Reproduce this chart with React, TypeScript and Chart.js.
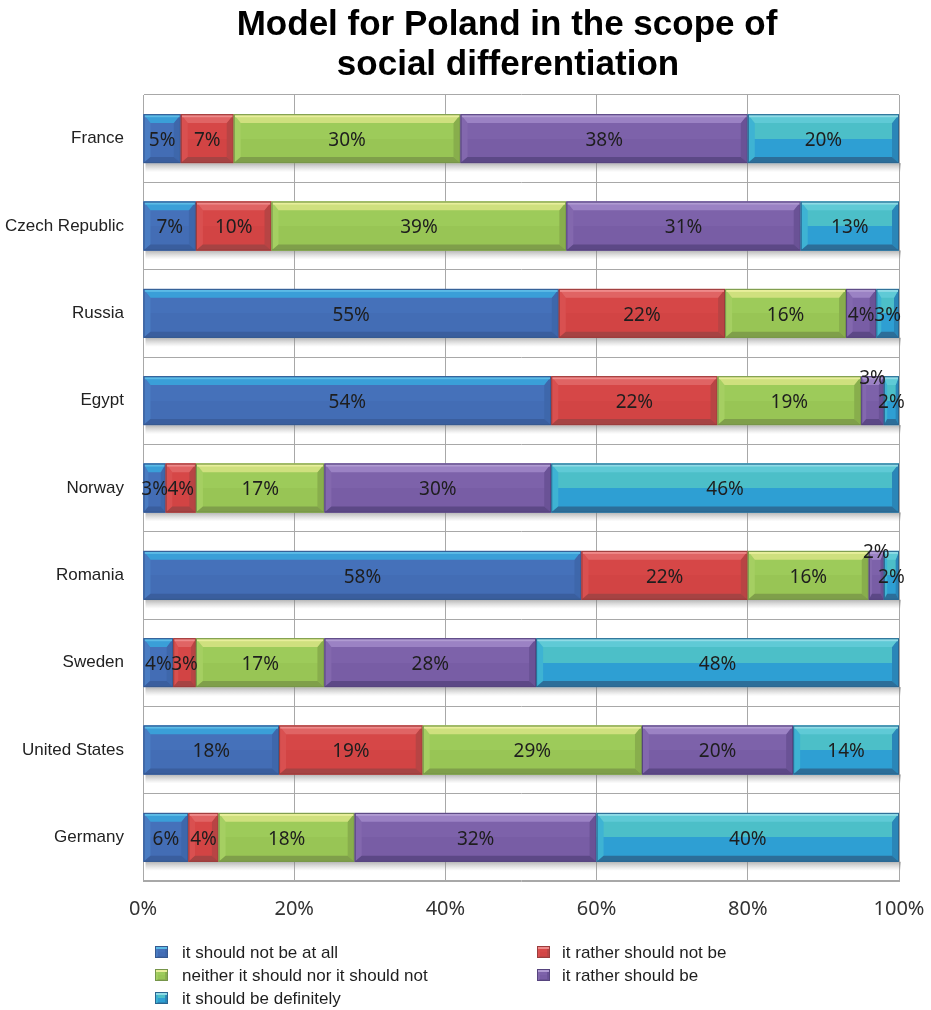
import React, { useEffect, useRef } from 'react';
import { Chart, registerables } from 'chart.js';

Chart.register(...registerables);

// Survey answers per country, in percent (each row sums to 100)
const countries = ['France', 'Czech Republic', 'Russia', 'Egypt', 'Norway', 'Romania', 'Sweden', 'United States', 'Germany'];
const notAtAll = [5, 7, 55, 54, 3, 58, 4, 18, 6];
const ratherNot = [7, 10, 22, 22, 4, 22, 3, 19, 4];
const neither = [30, 39, 16, 19, 17, 16, 17, 29, 18];
const ratherShould = [38, 31, 4, 3, 30, 2, 28, 20, 32];
const definitely = [20, 13, 3, 2, 46, 2, 48, 14, 40];
const xTicks = [0, 20, 40, 60, 80, 100];

const seriesNames = [
  'it should not be at all',
  'it rather should not be',
  'neither it should nor it should not',
  'it rather should be',
  'it should be definitely',
];
const seriesValues = [notAtAll, ratherNot, neither, ratherShould, definitely];

const TITLE_LINES = ['Model for Poland in the scope of', 'social differentiation'];

type Palette = {
  bodyTop: string;
  bodyBottom: string;
  top: string;
  topHi: string;
  bottom: string;
  left: string;
  right: string;
  edge: string;
};

// Bevelled look for each series
const palettes: Palette[] = [
  { bodyTop: '#4571ba', bodyBottom: '#436db5', top: '#3a9fd8', topHi: '#5cbbe6', bottom: '#3a5e9e', left: '#4a7cc2', right: '#3e67ab', edge: '#36598f' },
  { bodyTop: '#d64747', bodyBottom: '#d24444', top: '#e06464', topHi: '#ee8a8a', bottom: '#a64343', left: '#d95050', right: '#b84444', edge: '#9a3c3c' },
  { bodyTop: '#9dcb5a', bodyBottom: '#98c555', top: '#cfe07e', topHi: '#e8ee9c', bottom: '#7f9f4a', left: '#a5cf62', right: '#88ae4c', edge: '#76954a' },
  { bodyTop: '#7d62aa', bodyBottom: '#785da5', top: '#9b82c4', topHi: '#b09bd2', bottom: '#5c4886', left: '#8368ae', right: '#6a5296', edge: '#56447e' },
  { bodyTop: '#4cbfc8', bodyBottom: '#2e9fd3', top: '#5fcad6', topHi: '#8fdbe6', bottom: '#2c6e99', left: '#3eb3d3', right: '#2a86b8', edge: '#2a6590' },
];

const GRID = '#a8a8a8';
const LABEL_FONT = '19px "Noto Sans", "Liberation Sans", sans-serif';
const AXIS_FONT_FAMILY = '"Liberation Sans", Arial, sans-serif';

function poly(ctx: CanvasRenderingContext2D, pts: number[][], fill: string) {
  ctx.beginPath();
  ctx.moveTo(pts[0][0], pts[0][1]);
  for (let i = 1; i < pts.length; i++) ctx.lineTo(pts[i][0], pts[i][1]);
  ctx.closePath();
  ctx.fillStyle = fill;
  ctx.fill();
}

function drawSegment(ctx: CanvasRenderingContext2D, L: number, R: number, T: number, B: number, p: Palette) {
  const w = R - L;
  const h = B - T;
  if (w <= 0) return;
  const bt = Math.min(9, h * 0.18);
  const bb = Math.min(6, h * 0.13);
  const side = Math.min(7, w * 0.22);

  const g = ctx.createLinearGradient(0, T, 0, B);
  g.addColorStop(0, p.bodyTop);
  g.addColorStop(0.5, p.bodyTop);
  g.addColorStop(0.5, p.bodyBottom);
  g.addColorStop(1, p.bodyBottom);
  ctx.fillStyle = g;
  ctx.fillRect(L, T, w, h);

  poly(ctx, [[L, T], [L + side, T + bt], [L + side, B - bb], [L, B]], p.left);
  poly(ctx, [[R, T], [R - side, T + bt], [R - side, B - bb], [R, B]], p.right);
  poly(ctx, [[L, T], [R, T], [R - side, T + bt], [L + side, T + bt]], p.top);
  ctx.fillStyle = p.topHi;
  ctx.fillRect(L + 1, T + 1, Math.max(0, w - 2), 2);
  poly(ctx, [[L, B], [R, B], [R - side, B - bb], [L + side, B - bb]], p.bottom);

  ctx.strokeStyle = p.edge;
  ctx.lineWidth = 1;
  ctx.strokeRect(L + 0.5, T + 0.5, w - 1, h - 1);
}

const bevelPlugin = {
  id: 'bevelBars',
  beforeDatasetsDraw(chart: any) {
    const ctx: CanvasRenderingContext2D = chart.ctx;
    const first = chart.getDatasetMeta(0);
    const last = chart.getDatasetMeta(chart.data.datasets.length - 1);
    ctx.save();
    first.data.forEach((el: any, i: number) => {
      const a = el.getProps(['base', 'y', 'height'], true);
      const b = last.data[i].getProps(['x'], true);
      const B = a.y + a.height / 2;
      const g = ctx.createLinearGradient(0, B, 0, B + 9);
      g.addColorStop(0, 'rgba(120,120,120,0.55)');
      g.addColorStop(1, 'rgba(160,160,160,0)');
      ctx.fillStyle = g;
      ctx.fillRect(a.base + 2, B, b.x - a.base, 9);
    });
    ctx.restore();
  },
  afterDatasetsDraw(chart: any) {
    const ctx: CanvasRenderingContext2D = chart.ctx;
    ctx.save();
    chart.data.datasets.forEach((ds: any, di: number) => {
      const meta = chart.getDatasetMeta(di);
      meta.data.forEach((el: any) => {
        const p = el.getProps(['x', 'base', 'y', 'height'], true);
        const L = Math.min(p.x, p.base);
        const R = Math.max(p.x, p.base);
        drawSegment(ctx, L, R, p.y - p.height / 2, p.y + p.height / 2, palettes[di]);
      });
    });

    // value labels
    ctx.font = LABEL_FONT;
    ctx.fillStyle = '#1e1e1e';
    ctx.textAlign = 'center';
    ctx.textBaseline = 'middle';
    chart.data.datasets.forEach((ds: any, di: number) => {
      const meta = chart.getDatasetMeta(di);
      meta.data.forEach((el: any, i: number) => {
        const v = ds.data[i];
        const p = el.getProps(['x', 'base', 'y', 'height'], true);
        let y = p.y + 2;
        const next = chart.data.datasets[di + 1];
        // a narrow segment followed by another narrow one gets its label lifted
        if (next && v < 3.5 && next.data[i] < 2.5) y -= p.height * 0.5;
        ctx.fillText(v + '%', (p.x + p.base) / 2, y);
      });
    });
    ctx.restore();
  },
  afterDraw(chart: any) {
    const ctx: CanvasRenderingContext2D = chart.ctx;
    ctx.save();
    // title
    ctx.font = 'bold 35px "Liberation Sans", Arial, sans-serif';
    ctx.fillStyle = '#000';
    ctx.textAlign = 'center';
    ctx.textBaseline = 'alphabetic';
    ctx.fillText(TITLE_LINES[0], 507, 35);
    ctx.fillText(TITLE_LINES[1], 508, 75);

    // legend, two columns filled row by row
    ctx.font = '17px ' + AXIS_FONT_FAMILY;
    ctx.textAlign = 'left';
    ctx.textBaseline = 'middle';
    seriesNames.forEach((name, i) => {
      const col = i % 2;
      const row = Math.floor(i / 2);
      const mx = col === 0 ? 155 : 537;
      const tx = col === 0 ? 182 : 562;
      const cy = 953 + row * 23;
      drawSegment(ctx, mx, mx + 13, cy - 7, cy + 5, palettes[i]);
      ctx.fillStyle = '#1e1e1e';
      ctx.fillText(name, tx, cy);
    });
    ctx.restore();
  },
};

export default function App() {
  const ref = useRef<HTMLCanvasElement | null>(null);

  useEffect(() => {
    if (!ref.current) return;
    const chart = new Chart(ref.current, {
      type: 'bar',
      data: {
        labels: countries,
        datasets: seriesValues.map((vals, i) => ({
          label: seriesNames[i],
          data: vals,
          backgroundColor: palettes[i].bodyBottom,
          borderWidth: 0,
          barPercentage: 0.56,
          categoryPercentage: 1,
        })),
      },
      options: {
        indexAxis: 'y',
        responsive: false,
        animation: false,
        layout: { padding: { left: 4, right: 32, top: 95, bottom: 0 } },
        plugins: {
          legend: { display: false },
          title: { display: false },
          tooltip: { enabled: false },
        },
        scales: {
          x: {
            stacked: true,
            min: 0,
            max: 100,
            afterBuildTicks: (s: any) => {
              s.ticks = xTicks.map((v) => ({ value: v }));
            },
            afterFit: (s: any) => {
              s.height = 129;
              s.paddingLeft = 0;
              s.paddingRight = 0;
            },
            ticks: {
              callback: (v: any) => v + '%',
              font: { family: '"Noto Sans", "Liberation Sans", sans-serif', size: 20 },
              color: '#333',
              padding: 16,
              maxRotation: 0,
            },
            grid: { color: GRID, drawTicks: false },
            border: { color: GRID },
          },
          y: {
            stacked: true,
            afterFit: (s: any) => {
              s.width = 139;
            },
            ticks: {
              font: { family: AXIS_FONT_FAMILY, size: 17 },
              color: '#222',
              padding: 19,
            },
            grid: { color: GRID, drawTicks: false, offset: true },
            border: { color: GRID },
          },
        },
      },
      plugins: [bevelPlugin],
    } as any);
    return () => chart.destroy();
  }, []);

  return (
    <div style={{ position: 'absolute', left: 0, top: 0, width: 931, height: 1010, background: '#fff' }}>
      <canvas ref={ref} width={931} height={1010} style={{ display: 'block' }} />
    </div>
  );
}
